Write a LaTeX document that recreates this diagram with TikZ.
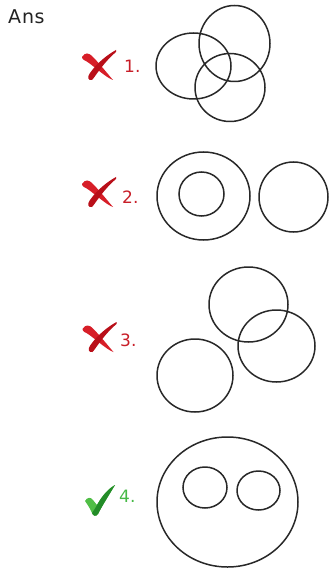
\documentclass[tikz,border=0pt]{standalone}
\usepackage{fontspec}
\setmainfont{DejaVu Sans}
\definecolor{ringgray}{RGB}{40,40,40}
\definecolor{markred}{RGB}{215,30,40}
\definecolor{markreddark}{RGB}{185,15,25}
\definecolor{labelred}{RGB}{200,30,40}
\definecolor{markgreen}{RGB}{80,190,70}
\definecolor{markgreendark}{RGB}{35,140,40}
\definecolor{labelgreen}{RGB}{70,185,70}
\definecolor{anscol}{RGB}{35,35,35}
\tikzset{
  ring/.style={draw=ringgray, line width=1.5pt},
  numlabel/.style={anchor=west, inner sep=0pt, font=\fontsize{17}{20}\selectfont},
  wrongmark/.pic={
    \fill[markred] (-17,-8) .. controls (-14,-13) and (-10,-12) .. (-7,-9)
       .. controls (0,-2) and (8,8) .. (14,15)
       .. controls (8,13) and (-2,4) .. (-10,-2)
       .. controls (-14,-5) and (-17,-5) .. cycle;
    \fill[markreddark] (17,-15) .. controls (8,-10) and (-2,-2) .. (-9,8)
       .. controls (-12,12) and (-11,16) .. (-7,15)
       .. controls (-4,12) and (4,-2) .. (17,-13) -- cycle;
  },
  rightmark/.pic={
    \fill[markgreen] (-15,1) .. controls (-13,-3) and (-9,-3) .. (-7,0) -- (-3,5)
       .. controls (2,-4) and (8,-11) .. (15,-15)
       .. controls (9,-5) and (2,6) .. (-2,14)
       .. controls (-4,17) and (-7,16) .. (-8,13)
       .. controls (-10,8) and (-13,4) .. cycle;
    \fill[markgreendark] (-3,5) .. controls (2,-4) and (8,-11) .. (15,-15)
       .. controls (9,-5) and (2,6) .. (-2,14)
       .. controls (-4,17) and (-7,16) .. (-8,13)
       .. controls (-6,11) and (-5,8) .. cycle;
  }
}
\begin{document}
\begin{tikzpicture}[x=1pt,y=-1pt]
\useasboundingbox (0,0) rectangle (329,569);
\fill[white] (0,0) rectangle (329,569);
\node[anchor=west, inner sep=0pt, text=anscol, font=\fontsize{19}{22}\selectfont] (ans) at (8,17) {A\kern1pt n\kern0.5pt s};
% 1
\pic at (99,65) {wrongmark};
\node[numlabel, text=labelred] (l1) at (124,66) {1.};
\draw[ring] (193.5,66) ellipse [x radius=37.5, y radius=33];
\draw[ring] (234.5,43.5) ellipse [x radius=35.5, y radius=38];
\draw[ring] (230,87.5) ellipse [x radius=35, y radius=34];
% 2
\pic at (99,192) {wrongmark};
\node[numlabel, text=labelred] (l2) at (122,197) {2.};
\draw[ring] (203.5,196) ellipse [x radius=46.5, y radius=44];
\draw[ring] (201.5,194) ellipse [x radius=22.5, y radius=22];
\draw[ring] (293.5,197) ellipse [x radius=34.5, y radius=35];
% 3
\pic at (99.5,337) {wrongmark};
\node[numlabel, text=labelred] (l3) at (120,340) {3.};
\draw[ring] (248.5,304.5) ellipse [x radius=39.5, y radius=37.5];
\draw[ring] (276.5,346) ellipse [x radius=38.5, y radius=36];
\draw[ring] (195,375.5) ellipse [x radius=38, y radius=36.5];
% 4
\pic at (100,500) {rightmark};
\node[numlabel, text=labelgreen] (l4) at (119,496.5) {4.};
\draw[ring] (227.5,502) ellipse [x radius=70.5, y radius=65];
\draw[ring] (205,487.5) ellipse [x radius=22, y radius=20.5];
\draw[ring] (258.5,490.5) ellipse [x radius=21.5, y radius=19.5];
\end{tikzpicture}
\end{document}
